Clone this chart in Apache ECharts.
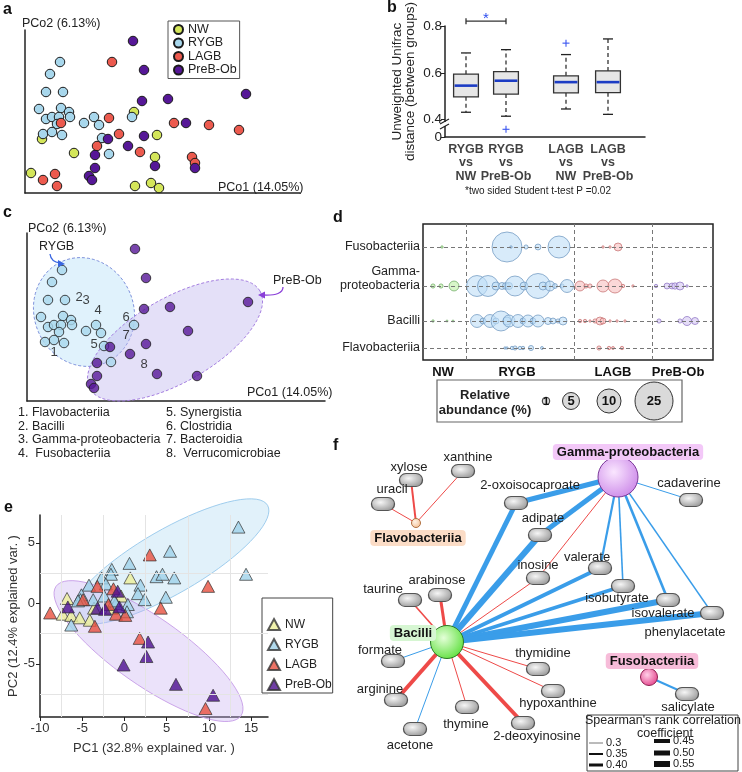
<!DOCTYPE html>
<html><head><meta charset="utf-8">
<script src="https://cdn.jsdelivr.net/npm/echarts@6.0.0/dist/echarts.min.js"></script>
<style>html,body{margin:0;padding:0;background:#fff;}#chart{width:742px;height:772px;}</style>
</head><body><div id="chart"></div>
<script>
// ================= DATA =================
const groups = ['NW','RYGB','LAGB','PreB-Ob'];

// Panels a / c : PCoA scores (arbitrary units)
const pcoaNW   = [[109,81],[132,58],[17,54],[49,40],[130,36],[6,20],[110,7],[126,10],[134,5]];
const pcoaRYGB = [[35,131],[25,119],[21,101],[38,101],[14,84],[36,85],[44,81],[45,76],[21,74],[27,76],[34,76],[32,69],[18,59],[27,61],[37,58],[59,70],[69,76],[74,68],[77,55],[84,39],[107,76]];
const pcoaLAGB = [[87,131],[36,70],[84,75],[94,59],[72,47],[115,41],[149,70],[184,68],[214,63],[167,36],[170,30],[30,19],[18,13],[32,7]];
const pcoaPreB = [[108,152],[119,123],[117,92],[143,94],[221,99],[161,70],[119,57],[83,54],[103,47],[70,38],[130,27],[170,25],[70,25],[64,17],[67,13]];
const pcoaXName = 'PCo1 (14.05%)';
const pcoaYName = 'PCo2 (6.13%)';

// Panel b : box statistics
const bCats  = ['RYGB\nvs\nNW','RYGB\nvs\nPreB-Ob','LAGB\nvs\nNW','LAGB\nvs\nPreB-Ob'];
const bLow   = [0.431,0.414,0.445,0.422];
const bQ1    = [0.497,0.509,0.514,0.515];
const bMed   = [0.545,0.566,0.560,0.560];
const bQ3    = [0.594,0.605,0.587,0.608];
const bHigh  = [0.685,0.699,0.678,0.745];
const bOutliers = [[1,0.358],[2,0.727]];     // [category index, value]
const bSig = [[0,1,0.821,'*']];              // [from cat, to cat, level, mark]
const bTickVals = [0.4,0.6,0.8];
const bYName = 'Unweighted Unifrac\ndistance (between groups)';
const bNote = '*two sided Student t-test P =0.02';

// Panel c : taxa loadings and group ellipses (same units as panel a)
const cTaxa = ['Flavobacteriia','Bacilli','Gamma-proteobacteria',' Fusobacteriia','Synergistia','Clostridia','Bacteroidia',' Verrucomicrobiae'];
const cTaxaPos = [[27,49],[52,104],[59,101],[71,91],[67,57],[99,84],[99,66],[117,37]];
const cEllipseRYGB = [57,89,46,19,-21,51];     // centre, axis 1, axis 2
const cEllipsePreB = [148,61,85,49,-21,36.4];

// Panel d : bubble plot, [sample position, row index, relative abundance %]
const dRows = ['Fusobacteriia','Gamma-proteobacteria','Bacilli','Flavobacteriia'];
const dNW = [[19,0,0.1],[10,1,0.3],[18,1,0.3],[31,1,1.7],[10,2,0.1],[24,2,0.05],[30,2,0.05]];
const dRYGB = [[84,0,15.6],[88,0,0.1],[103,0,0.3],[115,0,0.6],[136,0,8.4],
  [54,1,7.6],[65,1,7.6],[73,1,1.1],[79,1,0.85],[83,1,0.85],[86,1,0.85],[92,1,6.9],[101,1,1.1],[115,1,10.8],[120,1,1.1],[127,1,1.7],[132,1,0.4],[139,1,0.3],[144,1,2.9],
  [54,2,2.9],[60,2,0.6],[67,2,2.9],[73,2,0.6],[78,2,6.9],[84,2,1.1],[86,2,2.5],[95,2,2.9],[100,2,0.6],[105,2,2.5],[110,2,0.6],[115,2,2.5],[125,2,0.85],[130,2,0.6],[135,2,0.3],[140,2,1.1],
  [82,3,0.1],[84,3,0.1],[89,3,0.2],[92,3,0.3],[97,3,0.2],[100,3,0.2],[108,3,0.45],[119,3,0.15]];
const dLAGB = [[180,0,0.1],[187,0,0.1],[195,0,1.1],
  [157,1,1.7],[163,1,0.3],[167,1,0.3],[180,1,2.5],[192,1,3.4],[200,1,0.2],[210,1,0.1],
  [157,2,0.2],[162,2,0.2],[167,2,0.1],[172,2,0.3],[177,2,1.1],[180,2,0.6],[187,2,0.1],[194,2,0.1],[202,2,0.1],
  [176,3,0.3],[186,3,0.2],[190,3,0.15],[199,3,0.2]];
const dPreB = [[233,1,0.2],[244,1,0.6],[249,1,0.6],[252,1,0.7],[257,1,1.1],[264,1,0.1],
  [236,2,0.3],[257,2,0.3],[264,2,1.4],[272,2,0.85]];
const dGroupBounds = [43,151,229];
const dGroupCentres = [20,94,190,255];
const dLegendVals = [1,5,10,25];

// Panel e : PCA scores
const eNW = [[-6.8,0.4],[-7.3,-0.9],[-6.3,-1.0],[-5.3,-1.2],[-4.1,-1.4],[-3.6,-0.4],[-1.5,-0.4],[-0.4,0.6],[0.7,2.1]];
const eRYGB = [[13.5,6.3],[14.4,2.4],[5.4,4.3],[0.6,3.3],[-1.5,2.8],[-1.6,2.4],[-2.7,2.1],[-2.2,1.6],[-4.2,1.5],[-5.1,0.7],[-5.2,0.3],[-3.7,0.3],[-2.4,0.6],[-1.0,0.0],[0.4,-0.1],[0.3,-0.7],[-6.3,-1.8],[1.9,1.5],[1.6,0.8],[2.4,0.3],[3.8,2.2],[4.5,2.4],[5.9,2.1],[4.9,0.5],[-5.5,0.2],[-1.2,0.2]];
const eLAGB = [[-8.8,-0.8],[-4.9,0.3],[-3.5,-1.9],[-3.2,1.4],[-1.3,1.2],[-1.9,-0.1],[-1.0,-0.9],[0.1,-1.0],[3.0,4.0],[4.3,-0.4],[9.9,1.4],[1.8,-2.9],[9.6,-8.7]];
const ePreB = [[-6.7,-0.3],[-3.2,-0.4],[-2.3,-0.5],[-0.8,1.0],[-0.6,-0.3],[2.8,-3.2],[2.6,-4.4],[-0.1,-5.1],[6.1,-6.7],[10.5,-7.6]];
const eEllipseRYGB = [5.4,3.45,11.55,4.65,1.9,-2.3];
const eEllipsePreB = [2.85,-3.95,10.95,-5.35,-2.3,-2.3];
const eXTicks = [-10,-5,0,5,10,15];
const eYTicks = [-5,0,5];
const eGridX = [-7.5,-2.5,2.5,7.5,12.5];
const eGridY = [-7.5,-2.5,2.5];
const eXName = 'PC1 (32.8% explained var. )';
const eYName = 'PC2 (12.4% explained var. )';

// Panel f : correlation network (layout units)
const fTaxa = ['Gamma-proteobacteria','Bacilli','Flavobacteriia','Fusobacteriia'];
const fTaxaPos = [[248,37],[77,202],[46,83],[279,237]];
const fMetab = ['uracil','xylose','xanthine','2-oxoisocaproate','adipate','inosine','valerate','isobutyrate','isovalerate','phenylacetate','cadaverine','taurine','arabinose','formate','arginine','acetone','thymine','2-deoxyinosine','thymidine','hypoxanthine','salicylate'];
const fMetabPos = [[13,64],[41,40],[93,31],[146,63],[170,95],[168,138],[230,128],[253,146],[298,160],[342,173],[321,60],[40,160],[70,155],[23,221],[26,260],[45,289],[97,267],[153,283],[168,229],[183,251],[317,254]];
const fLinks = [
  ['Gamma-proteobacteria','2-oxoisocaproate',0.50],['Gamma-proteobacteria','adipate',0.50],['Gamma-proteobacteria','inosine',-0.30],
  ['Gamma-proteobacteria','valerate',0.36],['Gamma-proteobacteria','isobutyrate',0.33],['Gamma-proteobacteria','isovalerate',0.38],
  ['Gamma-proteobacteria','phenylacetate',0.32],['Gamma-proteobacteria','cadaverine',0.30],
  ['Bacilli','2-oxoisocaproate',0.50],['Bacilli','adipate',0.55],['Bacilli','inosine',-0.30],['Bacilli','valerate',0.45],
  ['Bacilli','isobutyrate',0.43],['Bacilli','isovalerate',0.55],['Bacilli','phenylacetate',0.55],['Bacilli','taurine',-0.33],
  ['Bacilli','arabinose',-0.40],['Bacilli','formate',0.30],['Bacilli','arginine',-0.45],['Bacilli','acetone',0.30],
  ['Bacilli','thymine',-0.30],['Bacilli','2-deoxyinosine',-0.45],['Bacilli','thymidine',-0.30],['Bacilli','hypoxanthine',-0.30],
  ['Flavobacteriia','uracil',-0.30],['Flavobacteriia','xylose',-0.35],['Flavobacteriia','xanthine',-0.30],
  ['Fusobacteriia','salicylate',0.35]
];
const fLegendVals = [0.3,0.35,0.40,0.45,0.50,0.55];
const fLegendTitle = "Spearman's rank correlation";

// ================= BUILD =================
const FONT = '"Liberation Sans", Arial, Helvetica, sans-serif';
const INK = '#222';
const pcoaColors = {NW:'#d4e65a', RYGB:'#a8d7ec', LAGB:'#ec5a4e', 'PreB-Ob':'#561797'};
const eColors = {NW:'#eef098', RYGB:'#9fd2ea', LAGB:'#e8503f', 'PreB-Ob':'#4b0e8f'};
const dFill = {NW:'rgba(190,240,165,0.75)', RYGB:'rgba(190,222,246,0.75)', LAGB:'rgba(246,190,190,0.75)', 'PreB-Ob':'rgba(212,198,242,0.75)'};
const dStroke = {NW:'#6aa860', RYGB:'#6a94bd', LAGB:'#c46c6c', 'PreB-Ob':'#8a70c2'};
const dRowPos = [113,74,39,12];
const bX = [1,2,3.5,4.55];
const bubble = v => 7.6*Math.sqrt(v);
const corrW = r => Math.max(0.9,(Math.abs(r)-0.25)*20);

function hiddenAxis(gi, min, max, extra){
  return Object.assign({gridIndex:gi,type:'value',min,max,show:false,splitLine:{show:false}}, extra||{});
}
function lineAxis(gi,min,max){
  return {gridIndex:gi,type:'value',min,max,axisLine:{onZero:false,lineStyle:{color:'#222',width:1.5}},axisTick:{show:false},axisLabel:{show:false},splitLine:{show:false}};
}

function ellipseItem(e, style){
  return function(params, api){
    const pts=[];
    for(let k=0;k<=72;k++){
      const t=k/72*Math.PI*2;
      pts.push(api.coord([e[0]+Math.cos(t)*e[2]+Math.sin(t)*e[4], e[1]+Math.cos(t)*e[3]+Math.sin(t)*e[5]]));
    }
    return {type:'polygon', shape:{points:pts}, style};
  };
}

const series = [];
// ---- a ----
[[pcoaNW,'NW'],[pcoaRYGB,'RYGB'],[pcoaLAGB,'LAGB'],[pcoaPreB,'PreB-Ob']].forEach(([d,g])=>{
  series.push({type:'scatter',name:g,xAxisIndex:0,yAxisIndex:0,data:d,symbolSize:9.5,z:3,
    itemStyle:{color:pcoaColors[g],borderColor:'#1a1a1a',borderWidth:1,opacity:1}});
});
// ---- c ----
series.push({type:'custom',xAxisIndex:2,yAxisIndex:2,data:[cEllipseRYGB],z:1,silent:true,
  renderItem:ellipseItem(cEllipseRYGB,{fill:'rgba(198,232,250,0.55)',stroke:'#7f92dc',lineWidth:1,lineDash:[3,2]})});
series.push({type:'custom',xAxisIndex:2,yAxisIndex:2,data:[cEllipsePreB],z:1,silent:true,
  renderItem:ellipseItem(cEllipsePreB,{fill:'rgba(196,186,240,0.45)',stroke:'#a47ee0',lineWidth:1,lineDash:[3,2]})});
[[pcoaRYGB,'RYGB'],[pcoaPreB,'PreB-Ob']].forEach(([d,g])=>{
  series.push({type:'scatter',name:'c:'+g,xAxisIndex:2,yAxisIndex:2,data:d,symbolSize:9.5,z:3,
    itemStyle:{color:pcoaColors[g],borderColor:'#1a1a1a',borderWidth:1}});
});
series.push({type:'scatter',name:'c:taxa',xAxisIndex:2,yAxisIndex:2,z:4,symbolSize:1,
  data:cTaxaPos.map((p,i)=>({value:p,name:String(i+1)})),itemStyle:{color:'transparent'},
  label:{show:true,position:'inside',formatter:'{b}',fontSize:13,color:'#111',fontFamily:FONT}});
// ---- b ----
series.push({type:'custom',name:'b:box',xAxisIndex:1,yAxisIndex:1,z:3,
  data:bX.map((x,i)=>[x,bLow[i],bQ1[i],bMed[i],bQ3[i],bHigh[i]]),
  encode:{x:0,y:[1,2,3,4,5]},
  renderItem:function(params,api){
    const x=api.value(0);
    const pLo=api.coord([x,api.value(1)]),pQ1=api.coord([x,api.value(2)]),pMd=api.coord([x,api.value(3)]),
          pQ3=api.coord([x,api.value(4)]),pHi=api.coord([x,api.value(5)]);
    const w=api.size([0.62,0])[0], cap=5, cx=pMd[0];
    const dash={stroke:'#222',lineWidth:1.2,lineDash:[4,3]}, solid={stroke:'#222',lineWidth:1.3};
    return {type:'group',children:[
      {type:'line',shape:{x1:cx,y1:pQ3[1],x2:cx,y2:pHi[1]},style:dash},
      {type:'line',shape:{x1:cx,y1:pQ1[1],x2:cx,y2:pLo[1]},style:dash},
      {type:'line',shape:{x1:cx-cap,y1:pHi[1],x2:cx+cap,y2:pHi[1]},style:solid},
      {type:'line',shape:{x1:cx-cap,y1:pLo[1],x2:cx+cap,y2:pLo[1]},style:solid},
      {type:'rect',shape:{x:cx-w/2,y:pQ3[1],width:w,height:pQ1[1]-pQ3[1]},style:{fill:'#e6e6e6',stroke:'#333',lineWidth:1.3}},
      {type:'line',shape:{x1:cx-w/2+1,y1:pMd[1],x2:cx+w/2-1,y2:pMd[1]},style:{stroke:'#1c3cc4',lineWidth:2.6}}
    ]};
  }});
series.push({type:'custom',name:'b:out',xAxisIndex:1,yAxisIndex:1,z:4,
  data:bOutliers.map(o=>[bX[o[0]],o[1]]),
  renderItem:function(params,api){
    const p=api.coord([api.value(0),api.value(1)]);
    const st={stroke:'#3a55f0',lineWidth:1.1};
    return {type:'group',children:[
      {type:'line',shape:{x1:p[0]-3.5,y1:p[1],x2:p[0]+3.5,y2:p[1]},style:st},
      {type:'line',shape:{x1:p[0],y1:p[1]-3.5,x2:p[0],y2:p[1]+3.5},style:st}]};
  }});
series.push({type:'custom',name:'b:sig',xAxisIndex:1,yAxisIndex:1,z:4,clip:false,
  data:bSig.map(s=>[bX[s[0]],bX[s[1]],s[2]]),encode:{x:[0,1],y:2},
  renderItem:function(params,api){
    const p1=api.coord([api.value(0),api.value(2)]),p2=api.coord([api.value(1),api.value(2)]);
    const st={stroke:'#333',lineWidth:1.3};
    return {type:'group',children:[
      {type:'line',shape:{x1:p1[0],y1:p1[1],x2:p2[0],y2:p2[1]},style:st},
      {type:'line',shape:{x1:p1[0],y1:p1[1]-3,x2:p1[0],y2:p1[1]+3},style:st},
      {type:'line',shape:{x1:p2[0],y1:p2[1]-3,x2:p2[0],y2:p2[1]+3},style:st},
      {type:'text',x:(p1[0]+p2[0])/2,y:p1[1]-2,style:{text:bSig[params.dataIndex][3],fill:'#2b4cf0',fontSize:15,fontFamily:FONT,align:'center',verticalAlign:'middle',textAlign:'center',textVerticalAlign:'middle'}}
    ]};
  }});
// x labels of panel b, placed on the category positions through the axis scale
series.push({type:'scatter',name:'b:labels',xAxisIndex:1,yAxisIndex:1,z:4,symbolSize:1,clip:false,silent:true,
  data:bX.map((x,i)=>({value:[x,0.325],name:bCats[i]})),itemStyle:{color:'transparent'},
  label:{show:true,position:'bottom',distance:5,formatter:'{b}',fontWeight:'bold',fontSize:12.5,lineHeight:13.5,color:'#111',fontFamily:FONT,align:'center'},
  labelLayout:{hideOverlap:false}});
// ---- d ----
series.push({type:'line',name:'d:grid',xAxisIndex:3,yAxisIndex:3,data:[],silent:true,z:1,
  markLine:{silent:true,symbol:['none','none'],label:{show:false},animation:false,
    lineStyle:{color:'#777',width:1,type:[4,3]},
    data:dRowPos.map(v=>({yAxis:v})).concat(dGroupBounds.map(v=>({xAxis:v})))}});
[[dNW,'NW'],[dRYGB,'RYGB'],[dLAGB,'LAGB'],[dPreB,'PreB-Ob']].forEach(([d,g])=>{
  series.push({type:'scatter',name:'d:'+g,xAxisIndex:3,yAxisIndex:3,z:3,
    data:d.map(p=>[p[0],dRowPos[p[1]],p[2]]),
    symbolSize:v=>Math.max(2,bubble(v[2])),
    itemStyle:{color:dFill[g],borderColor:dStroke[g],borderWidth:0.9}});
});
// ---- e ----
series.push({type:'line',name:'e:grid',xAxisIndex:4,yAxisIndex:4,data:[],silent:true,z:0,
  markLine:{silent:true,symbol:['none','none'],label:{show:false},animation:false,
    lineStyle:{color:'#e4e4e4',width:1,type:'solid'},
    data:eGridX.map(v=>({xAxis:v})).concat(eGridY.map(v=>({yAxis:v})))}});
series.push({type:'custom',xAxisIndex:4,yAxisIndex:4,data:[eEllipseRYGB],z:1,silent:true,clip:false,
  renderItem:ellipseItem(eEllipseRYGB,{fill:'rgba(170,215,242,0.35)',stroke:'rgba(150,200,235,0.9)',lineWidth:1})});
series.push({type:'custom',xAxisIndex:4,yAxisIndex:4,data:[eEllipsePreB],z:1,silent:true,clip:false,
  renderItem:ellipseItem(eEllipsePreB,{fill:'rgba(198,172,240,0.35)',stroke:'rgba(200,160,232,0.95)',lineWidth:1})});
[[eNW,'NW'],[eRYGB,'RYGB'],[eLAGB,'LAGB'],[ePreB,'PreB-Ob']].forEach(([d,g])=>{
  series.push({type:'scatter',name:'e:'+g,xAxisIndex:4,yAxisIndex:4,data:d,symbol:'triangle',symbolSize:[13,12],z:3,
    itemStyle:{color:eColors[g],borderColor:'#333',borderWidth:0.9}});
});
// ---- f ----
const rad = (c0,c1)=>({type:'radial',x:0.4,y:0.38,r:0.75,colorStops:[{offset:0,color:c0},{offset:1,color:c1}]});
const taxonStyle = {
  'Gamma-proteobacteria':{size:40,grad:rad('#fae6ff','#c77fe6'),border:'#7b3a99',bg:'#f3c8f8'},
  'Bacilli':{size:33,grad:rad('#e4ffd8','#4fdc2c'),border:'#2c7a26',bg:'#d6f6d2'},
  'Flavobacteriia':{size:9,grad:rad('#fff2e4','#f3b98a'),border:'#b07040',bg:'#fbdcc6'},
  'Fusobacteriia':{size:17,grad:rad('#ffd0e8','#e0307f'),border:'#8f1f50',bg:'#f7bcd9'}
};
const labelOff = {'uracil':[9,-15],'xylose':[-2,-13],'xanthine':[5,-14],'2-oxoisocaproate':[14,-18],'adipate':[3,-17],
  'inosine':[0,-13],'valerate':[-13,-11],'isobutyrate':[-6,12],'isovalerate':[-5,13],'phenylacetate':[-27,19],
  'cadaverine':[-2,-17],'taurine':[-27,-11],'arabinose':[-3,-15],'formate':[-13,-11],'arginine':[-16,-11],
  'acetone':[-5,16],'thymine':[-1,17],'2-deoxyinosine':[14,13],'thymidine':[5,-16],'hypoxanthine':[5,12],
  'salicylate':[1,13],'Gamma-proteobacteria':[10,-25],'Bacilli':[-34,-9],'Flavobacteriia':[2,15],'Fusobacteriia':[3,-16]};
const PILL = 'path://M6.5,0H16.5A6.5,6.5,0,0,1,16.5,13H6.5A6.5,6.5,0,0,1,6.5,0Z';
const fNodes = [];
fTaxa.forEach((n,i)=>{
  const s=taxonStyle[n];
  fNodes.push({name:n,value:fTaxaPos[i],symbol:'circle',symbolSize:s.size,
    itemStyle:{color:s.grad,borderColor:s.border,borderWidth:1},
    label:{show:true,position:'inside',offset:labelOff[n],fontWeight:'bold',fontSize:13,color:'#111',fontFamily:FONT,
      backgroundColor:s.bg,padding:[2,4,1,4],borderRadius:4}});
});
fMetab.forEach((n,i)=>{
  fNodes.push({name:n,value:fMetabPos[i],symbol:PILL,symbolSize:[23,13],
    itemStyle:{color:rad('#f6f6f6','#8e8e8e'),borderColor:'#555',borderWidth:1},
    label:{show:true,position:'inside',offset:labelOff[n],fontSize:13,color:'#222',fontFamily:FONT}});
});
series.push({type:'graph',layout:'none',coordinateSystem:'cartesian2d',xAxisIndex:5,yAxisIndex:5,z:3,
  roam:false,silent:true,emphasis:{disabled:true},
  data:fNodes,
  links:fLinks.map(([s,t,r])=>({source:s,target:t,lineStyle:{color:r>0?'#3a9de9':'#ee4a48',width:corrW(r),opacity:1,curveness:0}}))});

// ---- graphic: titles, annotations, legends ----
function T(x,y,text,o){
  o=o||{};
  return {type:'text',x,y,silent:true,z:50,style:{text,fontFamily:FONT,fontSize:o.size||13,fontWeight:o.weight||'normal',
    fill:o.color||INK,align:o.align||'left',verticalAlign:'middle',textAlign:o.align||'left',textVerticalAlign:'middle',lineHeight:o.lh||undefined}};
}
const graphic = [];
[['a',3,10],['b',387,8],['c',3,213],['d',333,218],['e',4,508],['f',333,446]].forEach(([t,x,y])=>graphic.push(T(x,y,t,{size:16,weight:'bold',color:'#111'})));
graphic.push(T(22,24,pcoaYName,{size:12.5}));
graphic.push(T(218,188,pcoaXName,{size:12.5}));
graphic.push(T(28,229,pcoaYName,{size:12.5}));
graphic.push(T(247,393,pcoaXName,{size:12.5}));
graphic.push(T(39,247,'RYGB',{size:12.5}));
graphic.push(T(273,281,'PreB-Ob',{size:12.5}));
// arrows in c
graphic.push({type:'bezierCurve',silent:true,z:50,shape:{x1:50,y1:254,x2:60,y2:263,cpx1:51,cpy1:262},style:{stroke:'#3a66e0',lineWidth:1.3,fill:null}});
graphic.push({type:'polygon',silent:true,z:50,shape:{points:[[65,264],[58,260],[58,267]]},style:{fill:'#3a66e0'}});
graphic.push({type:'bezierCurve',silent:true,z:50,shape:{x1:283,y1:287,x2:263,y2:295,cpx1:283,cpy1:296},style:{stroke:'#8a3fd8',lineWidth:1.3,fill:null}});
graphic.push({type:'polygon',silent:true,z:50,shape:{points:[[258,295],[265,291.5],[265,298.5]]},style:{fill:'#8a3fd8'}});
// c legend
cTaxa.forEach((t,i)=>{
  const col=i<4?0:1, row=i%4;
  graphic.push(T(col?166:18,413+row*13.4,(i+1)+'. '+t,{size:12.5}));
});
// b note and axis break
graphic.push(T(538,191,bNote,{size:10,align:'center'}));
graphic.push({type:'rect',silent:true,z:60,shape:{x:441,y:122,width:8,height:4},style:{fill:'#fff'}});
graphic.push({type:'line',silent:true,z:61,shape:{x1:440,y1:124,x2:449,y2:119},style:{stroke:'#222',lineWidth:1.2}});
graphic.push({type:'line',silent:true,z:61,shape:{x1:440,y1:129,x2:449,y2:124},style:{stroke:'#222',lineWidth:1.2}});
// d legend
graphic.push({type:'rect',silent:true,z:50,shape:{x:437,y:380,width:245,height:42},style:{fill:'none',stroke:'#666',lineWidth:1.2}});
graphic.push(T(485,395,'Relative',{size:13,weight:'bold',align:'center'}));
graphic.push(T(485,410,'abundance (%)',{size:13,weight:'bold',align:'center'}));
const dLegX = [546,571,609,654];
dLegendVals.forEach((v,i)=>{
  graphic.push({type:'circle',silent:true,z:50,shape:{cx:dLegX[i],cy:401,r:bubble(v)/2},style:{fill:'#dadada',stroke:'#333',lineWidth:1}});
  graphic.push(T(dLegX[i],401.5,String(v),{size:v<5?11:13,weight:'bold',align:'center',color:'#111'}));
});
// f legend
graphic.push({type:'rect',silent:true,z:49,shape:{x:587,y:715,width:151,height:56},style:{fill:'#fff',stroke:'#444',lineWidth:1}});
graphic.push(T(663,721,fLegendTitle,{size:12.5,align:'center'}));
graphic.push(T(665,734,'coefficient',{size:12.5,align:'center'}));
const fLegY = [743,754,765,741,753,764];
fLegendVals.forEach((v,i)=>{
  const x0=i<3?589:654, x1=i<3?603:670;
  graphic.push({type:'line',silent:true,z:50,shape:{x1:x0,y1:fLegY[i],x2:x1,y2:fLegY[i]},style:{stroke:i===0?'#777':'#111',lineWidth:corrW(v)}});
  graphic.push(T(x1+3,fLegY[i],i<3?String(v===0.4?'0.40':v):v.toFixed(2),{size:11}));
});

const option = {
  animation:false,
  backgroundColor:'#fff',
  textStyle:{fontFamily:FONT},
  grid:[
    {left:25,top:30,width:275,height:163},
    {left:445,top:24,width:200,height:113},
    {left:27,top:233,width:298,height:168},
    {left:423,top:224,width:290,height:136,show:true,borderColor:'#222',borderWidth:1.5,backgroundColor:'transparent'},
    {left:40,top:515,width:228,height:202},
    {left:370,top:440,width:372,height:332}
  ],
  xAxis:[
    lineAxis(0,0,275),
    {gridIndex:1,type:'value',min:0.475,max:5.475,axisLine:{onZero:false,lineStyle:{color:'#222',width:1.5}},axisTick:{show:false},splitLine:{show:false},
      axisLabel:{show:false}},
    lineAxis(2,0,298),
    {gridIndex:3,type:'value',min:0,max:290,axisLine:{show:false},axisTick:{show:false},splitLine:{show:false},
      axisLabel:{customValues:dGroupCentres,formatter:v=>groups[dGroupCentres.indexOf(v)]||'',fontWeight:'bold',fontSize:13,color:'#111',margin:6,fontFamily:FONT}},
    {gridIndex:4,type:'value',min:-10,max:17,axisLine:{onZero:false,lineStyle:{color:'#222',width:1.5}},
      axisTick:{show:true,customValues:eXTicks,length:4,lineStyle:{color:'#222'}},splitLine:{show:false},
      axisLabel:{customValues:eXTicks,fontSize:13,color:'#333',margin:5,fontFamily:FONT},
      name:eXName,nameLocation:'middle',nameGap:25,nameTextStyle:{fontSize:13,color:'#333',fontFamily:FONT}},
    hiddenAxis(5,0,372)
  ],
  yAxis:[
    lineAxis(0,0,163),
    {gridIndex:1,type:'value',min:0.325,max:0.8,axisLine:{onZero:false,lineStyle:{color:'#222',width:1.5}},
      axisTick:{show:true,customValues:[0.325].concat(bTickVals),length:4,lineStyle:{color:'#222'}},splitLine:{show:false},
      axisLabel:{customValues:[0.325].concat(bTickVals),formatter:v=>v<0.35?'0':v.toFixed(1),fontSize:13.5,color:'#222',margin:3,fontFamily:FONT},
      name:bYName,nameLocation:'middle',nameRotate:90,nameGap:28,nameTextStyle:{fontSize:13.5,color:'#222',lineHeight:13,fontFamily:FONT}},
    lineAxis(2,0,168),
    {gridIndex:3,type:'value',min:0,max:136,axisLine:{show:false},axisTick:{show:false},splitLine:{show:false},
      axisLabel:{customValues:dRowPos,formatter:v=>{const n=dRows[dRowPos.indexOf(v)]||''; return n==='Gamma-proteobacteria'?'Gamma-\nproteobacteria\n ':n;},fontSize:12.5,color:'#222',margin:3,lineHeight:14,fontFamily:FONT}},
    {gridIndex:4,type:'value',min:-9.4,max:7.3,axisLine:{onZero:false,lineStyle:{color:'#222',width:1.5}},
      axisTick:{show:true,customValues:eYTicks,length:4,lineStyle:{color:'#222'}},splitLine:{show:false},
      axisLabel:{customValues:eYTicks,fontSize:13,color:'#333',margin:5,fontFamily:FONT},
      name:eYName,nameLocation:'middle',nameRotate:90,nameGap:20,nameTextStyle:{fontSize:13,color:'#333',fontFamily:FONT}},
    hiddenAxis(5,0,332,{inverse:true})
  ],
  legend:[
    {left:168,top:21,orient:'vertical',selectedMode:false,data:groups.map(g=>({name:g,icon:'circle'})),
      itemWidth:9,itemHeight:9,itemGap:0.5,padding:[2,3,2,5],borderColor:'#555',borderWidth:1,
      textStyle:{fontSize:12.5,color:'#222',lineHeight:12,fontFamily:FONT}},
    {left:262,top:598,orient:'vertical',selectedMode:false,data:groups.map(g=>({name:'e:'+g,icon:'triangle'})),
      formatter:n=>n.slice(2),itemWidth:12,itemHeight:11,itemGap:7,padding:[20,1,2,5],borderColor:'#444',borderWidth:1,
      textStyle:{fontSize:12,color:'#222',fontFamily:FONT}}
  ],
  series,
  graphic
};
const chart = echarts.init(document.getElementById('chart'),null,{renderer:'canvas'});
chart.setOption(option);
</script></body></html>
